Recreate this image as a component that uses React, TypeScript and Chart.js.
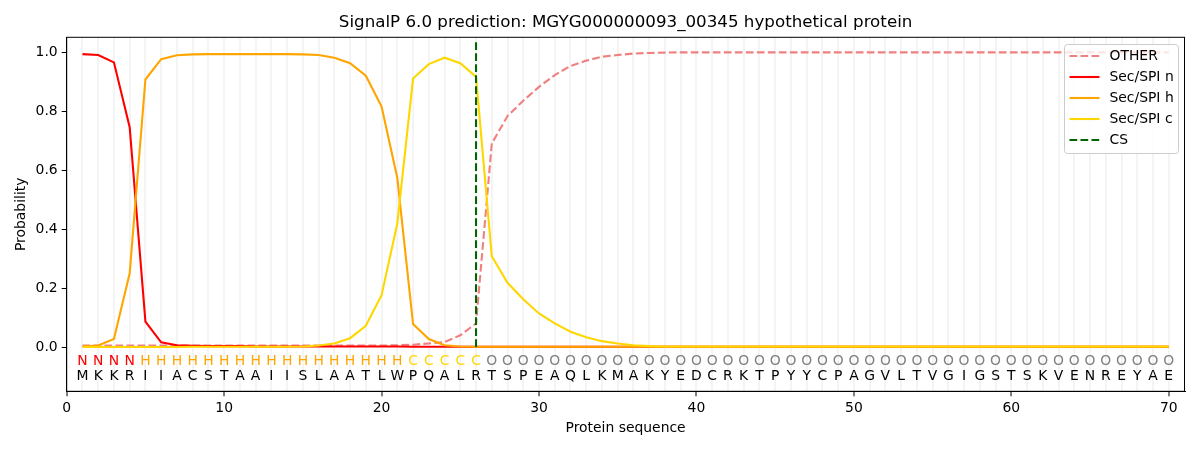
import React, { useEffect, useRef } from "react";
import { Chart, registerables } from "chart.js";

Chart.register(...registerables);

const TITLE = "SignalP 6.0 prediction: MGYG000000093_00345 hypothetical protein";

const residues = "MKKRIIACSTAAIISLAATLWPQALRTSPEAQLKMAKYEDCRKTPYYCPAGVLTVGIGSTSKVENREYAE".split("");
const regionLabels = "NNNNHHHHHHHHHHHHHHHHHCCCCCOOOOOOOOOOOOOOOOOOOOOOOOOOOOOOOOOOOOOOOOOOOO".split("");
const positions = residues.map((_, i) => i + 1);

const otherProb = [
  0.005, 0.005, 0.005, 0.005, 0.005, 0.005, 0.005, 0.005, 0.005, 0.005,
  0.005, 0.005, 0.005, 0.005, 0.005, 0.005, 0.005, 0.005, 0.005, 0.005,
  0.006, 0.008, 0.012, 0.017, 0.04, 0.08, 0.69, 0.783, 0.835, 0.882,
  0.922, 0.953, 0.971, 0.984, 0.99, 0.995, 0.997, 0.998, 0.999, 0.999,
  0.999, 0.999, 0.999, 0.999, 0.999, 0.999, 0.999, 0.999, 0.999, 0.999,
  0.999, 0.999, 0.999, 0.999, 0.999, 0.999, 0.999, 0.999, 0.999, 0.999,
  0.999, 0.999, 0.999, 0.999, 0.999, 0.999, 0.999, 0.999, 0.999, 0.999,
];
const secN = [
  0.993, 0.99, 0.965, 0.745, 0.086, 0.016, 0.006, 0.004, 0.003, 0.003,
  0.003, 0.002, 0.002, 0.002, 0.002, 0.002, 0.002, 0.002, 0.002, 0.002,
  0.002, 0.001, 0.001, 0.001, 0.001, 0.001, 0.001, 0.001, 0.001, 0.001,
  0.001, 0.001, 0.001, 0.001, 0.001, 0.001, 0.001, 0.001, 0.001, 0.001,
  0.001, 0.001, 0.001, 0.001, 0.001, 0.001, 0.001, 0.001, 0.001, 0.001,
  0.001, 0.001, 0.001, 0.001, 0.001, 0.001, 0.001, 0.001, 0.001, 0.001,
  0.001, 0.001, 0.001, 0.001, 0.001, 0.001, 0.001, 0.001, 0.001, 0.001,
];
const secH = [
  0.002, 0.005, 0.027, 0.25, 0.907, 0.976, 0.989, 0.992, 0.993, 0.993,
  0.993, 0.993, 0.993, 0.993, 0.992, 0.99, 0.981, 0.962, 0.92, 0.815,
  0.573, 0.078, 0.027, 0.006, 0.002, 0.001, 0.001, 0.001, 0.001, 0.001,
  0.001, 0.001, 0.001, 0.001, 0.001, 0.001, 0.001, 0.001, 0.001, 0.001,
  0.001, 0.001, 0.001, 0.001, 0.001, 0.001, 0.001, 0.001, 0.001, 0.001,
  0.001, 0.001, 0.001, 0.001, 0.001, 0.001, 0.001, 0.001, 0.001, 0.001,
  0.001, 0.001, 0.001, 0.001, 0.001, 0.001, 0.001, 0.001, 0.001, 0.001,
];
const secC = [
  0.0, 0.0, 0.0, 0.0, 0.0, 0.0, 0.0, 0.001, 0.001, 0.001,
  0.001, 0.001, 0.001, 0.001, 0.002, 0.005, 0.012, 0.03, 0.072, 0.176,
  0.419, 0.91, 0.959, 0.981, 0.962, 0.916, 0.308, 0.218, 0.162, 0.114,
  0.08, 0.052, 0.033, 0.02, 0.012, 0.006, 0.003, 0.002, 0.002, 0.002,
  0.002, 0.002, 0.002, 0.002, 0.002, 0.002, 0.002, 0.002, 0.002, 0.002,
  0.002, 0.002, 0.002, 0.002, 0.002, 0.002, 0.002, 0.002, 0.002, 0.002,
  0.002, 0.002, 0.002, 0.002, 0.002, 0.002, 0.002, 0.002, 0.002, 0.002,
];
const csPosition = 26;
const csLine = [0, 1.035];

const xTicks = [0, 10, 20, 30, 40, 50, 60, 70];
const yTicks = [0, 0.2, 0.4, 0.6, 0.8, 1.0];

const FONT = "DejaVu Sans";
const regionColors: Record<string, string> = { N: "#ff0000", H: "#ffa500", C: "#ffd700", O: "#808080" };

const toPoints = (vals: number[]) => vals.map((v, i) => ({ x: positions[i], y: v }));

const decorPlugin = {
  id: "decor",
  afterDraw(chart: any) {
    const { ctx, chartArea: a, scales } = chart;
    const xs = scales.x;
    const ys = scales.y;
    ctx.save();

    // frame
    ctx.strokeStyle = "#000";
    ctx.lineWidth = 1;
    ctx.strokeRect(a.left, a.top, a.right - a.left, a.bottom - a.top);

    // residue letters
    ctx.textAlign = "center";
    ctx.textBaseline = "middle";
    ctx.font = `13.9px "${FONT}"`;
    positions.forEach((p, i) => {
      const px = xs.getPixelForValue(p);
      ctx.fillStyle = regionColors[regionLabels[i]];
      ctx.fillText(regionLabels[i], px, ys.getPixelForValue(-0.047));
      ctx.fillStyle = "#000";
      ctx.fillText(residues[i], px, ys.getPixelForValue(-0.1));
    });

    // title and axis titles
    const cx = (a.left + a.right) / 2;
    ctx.fillStyle = "#000";
    ctx.font = `16.7px "${FONT}"`;
    ctx.fillText(TITLE, cx, 23);
    ctx.font = `13.9px "${FONT}"`;
    ctx.fillText("Protein sequence", cx, 428);
    ctx.save();
    ctx.translate(21, (a.top + a.bottom) / 2);
    ctx.rotate(-Math.PI / 2);
    ctx.fillText("Probability", 0, 0);
    ctx.restore();

    // legend
    const lx = 1064.5, ly = 44.5, lw = 114, lh = 109;
    ctx.beginPath();
    ctx.roundRect(lx, ly, lw, lh, 3);
    ctx.fillStyle = "rgba(255,255,255,0.8)";
    ctx.fill();
    ctx.strokeStyle = "#cccccc";
    ctx.stroke();
    ctx.textAlign = "left";
    chart.data.datasets.forEach((ds: any, i: number) => {
      const y = 56 + i * 21;
      ctx.beginPath();
      ctx.setLineDash(ds.borderDash || []);
      ctx.strokeStyle = ds.borderColor;
      ctx.lineWidth = ds.borderWidth;
      ctx.moveTo(1069.5, y);
      ctx.lineTo(1099.5, y);
      ctx.stroke();
      ctx.setLineDash([]);
      ctx.fillStyle = "#000";
      ctx.fillText(ds.label, 1109.5, y);
    });
    ctx.restore();
  },
};

const App: React.FC = () => {
  const canvasRef = useRef<HTMLCanvasElement>(null);
  const chartRef = useRef<Chart | null>(null);

  useEffect(() => {
    if (!canvasRef.current) return;
    const ctx = canvasRef.current.getContext("2d");
    if (!ctx) return;
    if (chartRef.current) chartRef.current.destroy();

    Chart.defaults.font.family = FONT;
    Chart.defaults.color = "#000";

    const dash = [7.7, 3.3];
    chartRef.current = new Chart(ctx, {
      type: "line",
      data: {
        datasets: [
          { label: "OTHER", data: toPoints(otherProb), borderColor: "#f08080", borderDash: dash, borderWidth: 2.1, order: 5 },
          { label: "Sec/SPI n", data: toPoints(secN), borderColor: "#ff0000", borderWidth: 2.1, order: 4 },
          { label: "Sec/SPI h", data: toPoints(secH), borderColor: "#ffa500", borderWidth: 2.1, order: 3 },
          { label: "Sec/SPI c", data: toPoints(secC), borderColor: "#ffd700", borderWidth: 2.1, order: 2 },
          {
            label: "CS",
            data: csLine.map((v) => ({ x: csPosition, y: v })),
            borderColor: "#006400",
            borderDash: dash,
            borderWidth: 2.1,
            order: 1,
          },
        ],
      },
      options: {
        animation: false,
        responsive: true,
        maintainAspectRatio: false,
        elements: { point: { radius: 0 }, line: { tension: 0, fill: false } },
        layout: { padding: { left: 0, right: 15.5, top: 37.3, bottom: 0 } },
        plugins: { legend: { display: false }, tooltip: { enabled: false }, title: { display: false } },
        scales: {
          x: {
            type: "linear",
            min: 0,
            max: 71,
            afterBuildTicks: (scale: any) => {
              scale.ticks = [0, ...positions, 71].map((v) => ({ value: v }));
            },
            afterFit: (scale: any) => {
              scale.height = 58.7;
            },
            ticks: {
              autoSkip: false,
              maxRotation: 0,
              padding: 4,
              font: { size: 13.9 },
              callback: (v: any) => (xTicks.includes(Number(v)) ? String(v) : ""),
            },
            grid: {
              color: (c: any) => (c.tick && c.tick.value >= 1 && c.tick.value <= 70 ? "#f4f4f4" : "transparent"),
              lineWidth: 2,
              tickColor: (c: any) => (c.tick && xTicks.includes(c.tick.value) ? "#000" : "transparent"),
              tickWidth: 1,
              tickLength: 5,
            },
            border: { display: true, color: "#000", width: 1 },
          },
          y: {
            type: "linear",
            min: -0.15,
            max: 1.05,
            afterBuildTicks: (scale: any) => {
              scale.ticks = yTicks.map((v) => ({ value: v }));
            },
            afterFit: (scale: any) => {
              scale.width = 66.7;
            },
            ticks: {
              padding: 4,
              font: { size: 13.9 },
              callback: (v: any) => Number(v).toFixed(1),
            },
            grid: { drawOnChartArea: false, tickColor: "#000", tickLength: 5, tickWidth: 1 },
            border: { display: true, color: "#000", width: 1 },
          },
        },
      },
      plugins: [decorPlugin],
    });

    return () => {
      if (chartRef.current) {
        chartRef.current.destroy();
        chartRef.current = null;
      }
    };
  }, []);

  return (
    <div style={{ position: "absolute", left: 0, top: 0, width: 1200, height: 450, background: "#fff" }}>
      <canvas ref={canvasRef}></canvas>
    </div>
  );
};

export default App;
